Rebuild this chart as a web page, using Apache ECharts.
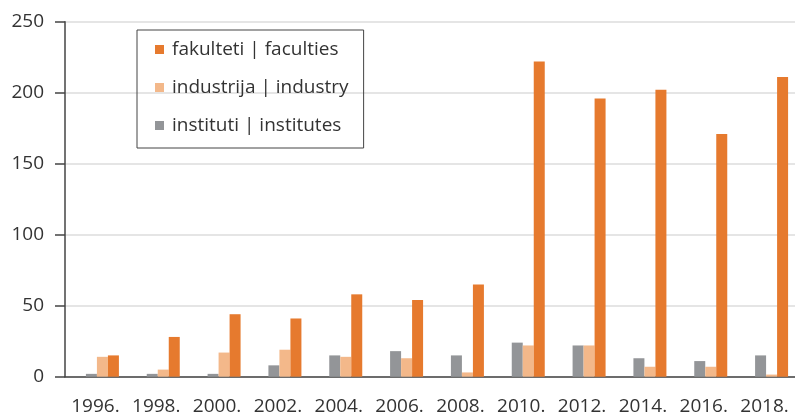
<!DOCTYPE html>
<html>
<head>
<meta charset="utf-8">
<script src="https://cdn.jsdelivr.net/npm/echarts@6/dist/echarts.min.js"></script>
<style>html,body{margin:0;padding:0;background:#fff;}#c{width:795px;height:417px;}</style>
</head>
<body>
<div id="c"></div>
<script>
var years = ['1996.','1998.','2000.','2002.','2004.','2006.','2008.','2010.','2012.','2014.','2016.','2018.'];
var fakulteti = [15, 28, 44, 41, 58, 54, 65, 222, 196, 202, 171, 211];
var industrija = [14, 5, 17, 19, 14, 13, 3, 22, 22, 7, 7, 1.5];
var instituti = [2, 2, 2, 8, 15, 18, 15, 24, 22, 13, 11, 15];
var yTicks = [0, 50, 100, 150, 200, 250];
var names = ['fakulteti | faculties', 'industrija | industry', 'instituti | institutes'];

var FONT = 'Open Sans';
var chart = echarts.init(document.getElementById('c'), null, {renderer: 'canvas'});
chart.setOption({
  animation: false,
  grid: {left: 65, right: 0, top: 21.7, bottom: 40.3, containLabel: false},
  legend: {
    data: names,
    orient: 'vertical',
    left: 137, top: 30,
    padding: [10, 15, 13, 18],
    itemWidth: 9, itemHeight: 9, itemGap: 19,
    borderColor: '#444', borderWidth: 1,
    icon: 'rect',
    textStyle: {fontFamily: FONT, fontSize: 19, color: '#333', padding: [0, 0, 0, 3], lineHeight: 19}
  },
  xAxis: {
    type: 'category',
    data: years,
    axisLine: {lineStyle: {color: '#444', width: 1.5}},
    axisTick: {length: 9, lineStyle: {color: '#444', width: 1.5}},
    axisLabel: {fontFamily: FONT, fontSize: 19, color: '#333', margin: 20, interval: 0}
  },
  yAxis: {
    type: 'value',
    min: yTicks[0], max: yTicks[yTicks.length - 1], interval: 50,
    axisLine: {show: true, lineStyle: {color: '#444', width: 1.5}},
    axisTick: {show: true, length: 10, lineStyle: {color: '#444', width: 1.5}},
    axisLabel: {fontFamily: FONT, fontSize: 19, color: '#333', margin: 21},
    splitLine: {lineStyle: {color: '#dcdcdc', width: 1.5}}
  },
  series: [
    {name: 'spacer', type: 'bar', barWidth: 14, data: years.map(function(){return null;}), barGap: '0%', silent: true},
    {name: names[2], type: 'bar', barWidth: 11, barGap: '0%', data: instituti, itemStyle: {color: '#939598'}},
    {name: names[1], type: 'bar', barWidth: 11, barGap: '0%', data: industrija, itemStyle: {color: '#F3B88A'}},
    {name: names[0], type: 'bar', barWidth: 11, barGap: '0%', data: fakulteti, itemStyle: {color: '#E67A2E'}}
  ]
});
</script>
</body>
</html>
